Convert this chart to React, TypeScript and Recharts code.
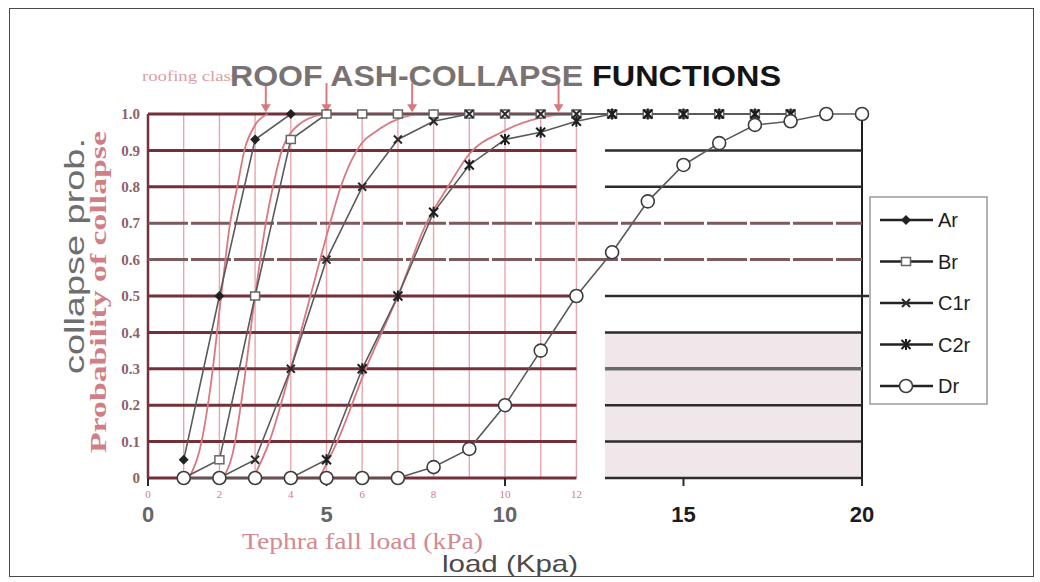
import {
  Line,
  LineChart,
  ReferenceArea,
  ReferenceDot,
  ReferenceLine,
  XAxis,
  YAxis,
} from "recharts";

// black chart: collapse probability per roof type, read at each kPa
const loads = [1, 2, 3, 4, 5, 6, 7, 8, 9, 10, 11, 12, 13, 14, 15, 16, 17, 18, 19, 20];
const arValues = [0.05, 0.5, 0.93, 1, 1, 1, 1, 1, 1, 1, 1, 1, 1, 1, 1, 1, 1, 1, null, null];
const brValues = [0, 0.05, 0.5, 0.93, 1, 1, 1, 1, 1, 1, 1, 1, 1, 1, 1, 1, 1, 1, null, null];
const c1rValues = [0, 0, 0.05, 0.3, 0.6, 0.8, 0.93, 0.98, 1, 1, 1, 1, 1, 1, 1, 1, 1, 1, null, null];
const c2rValues = [0, 0, 0, 0, 0.05, 0.3, 0.5, 0.73, 0.86, 0.93, 0.95, 0.98, 1, 1, 1, 1, 1, 1, null, null];
const drValues = [0, 0, 0, 0, 0, 0, 0, 0.03, 0.08, 0.2, 0.35, 0.5, 0.62, 0.76, 0.86, 0.92, 0.97, 0.98, 1, 1];

// red overlay: tephra fall curves per roofing class
const class1Loads = [1.15, 1.5, 1.75, 2.05, 2.3, 2.5, 2.7, 3.0, 3.35];
const class1Probs = [0, 0.1, 0.25, 0.5, 0.7, 0.8, 0.9, 0.97, 1];
const class2Loads = [2.1, 2.4, 2.6, 3.0, 3.3, 3.5, 3.75, 4.1, 4.9];
const class2Probs = [0, 0.08, 0.2, 0.5, 0.7, 0.8, 0.9, 0.96, 1];
const class3Loads = [2.95, 3.4, 4.0, 4.55, 5.1, 5.4, 5.85, 6.5, 7.5];
const class3Probs = [0, 0.1, 0.3, 0.5, 0.7, 0.8, 0.9, 0.96, 1];
const class4Loads = [4.8, 5.3, 6.1, 7.0, 7.8, 8.4, 9.0, 9.9, 11.0, 11.6];
const class4Probs = [0, 0.1, 0.3, 0.5, 0.7, 0.8, 0.89, 0.95, 0.99, 1];
const classArrowLoads = [3.3, 5.0, 7.4, 11.5];

const loadTicks = [0, 5, 10, 15, 20];
const tephraTicks = [0, 2, 4, 6, 8, 10, 12];
const probTicks = [0, 0.1, 0.2, 0.3, 0.4, 0.5, 0.6, 0.7, 0.8, 0.9, 1];
const redGridLoads = [0, 1, 2, 3, 4, 5, 6, 7, 8, 9, 10, 11, 12];

const data = loads.map((load, i) => ({
  load,
  Ar: arValues[i],
  Br: brValues[i],
  C1r: c1rValues[i],
  C2r: c2rValues[i],
  Dr: drValues[i],
}));

const toCurve = (xs: number[], ys: number[]) => xs.map((load, i) => ({ load, p: ys[i] }));
const redCurves = [
  toCurve(class1Loads, class1Probs),
  toCurve(class2Loads, class2Probs),
  toCurve(class3Loads, class3Probs),
  toCurve(class4Loads, class4Probs),
];

const SANS = "'Liberation Sans', Arial, sans-serif";
const SERIF = "'Liberation Serif', 'Times New Roman', serif";
const RED = "#d9787f";
const GRID_RED = "#74303a";
const GRID_PINK = "#eaa6ab";
const LINE_GREY = "#5a5a5a";

type Shape = "diamond" | "square" | "cross" | "star" | "circle";

const marker = (shape: Shape, cx: number, cy: number, key?: string | number) => {
  if (cx == null || cy == null || Number.isNaN(cy)) return <g key={key} />;
  switch (shape) {
    case "diamond":
      return (
        <path
          key={key}
          d={`M${cx},${cy - 5}L${cx + 5},${cy}L${cx},${cy + 5}L${cx - 5},${cy}Z`}
          fill="#222"
        />
      );
    case "square":
      return (
        <rect key={key} x={cx - 4.5} y={cy - 4} width={9} height={8} fill="#fff" stroke="#666" strokeWidth={1.5} />
      );
    case "cross":
      return (
        <path
          key={key}
          d={`M${cx - 4},${cy - 4}L${cx + 4},${cy + 4}M${cx + 4},${cy - 4}L${cx - 4},${cy + 4}`}
          stroke="#2a2a2a"
          strokeWidth={2}
        />
      );
    case "star":
      return (
        <path
          key={key}
          d={`M${cx - 4.5},${cy - 4.5}L${cx + 4.5},${cy + 4.5}M${cx + 4.5},${cy - 4.5}L${cx - 4.5},${cy + 4.5}M${cx},${cy - 5.5}L${cx},${cy + 5.5}`}
          stroke="#1e1e1e"
          strokeWidth={2}
        />
      );
    default:
      return <circle key={key} cx={cx} cy={cy} r={6.5} fill="#fff" stroke="#3c3c3c" strokeWidth={1.6} />;
  }
};

const dotFor = (shape: Shape) => (props: any) =>
  marker(shape, props.cx, props.cy, `${shape}-${props.index}`);

const series: { key: string; label: string; shape: Shape }[] = [
  { key: "Ar", label: "Ar", shape: "diamond" },
  { key: "Br", label: "Br", shape: "square" },
  { key: "C1r", label: "C1r", shape: "cross" },
  { key: "C2r", label: "C2r", shape: "star" },
  { key: "Dr", label: "Dr", shape: "circle" },
];

const LoadTick = ({ x, y, payload }: any) => (
  <text
    x={x}
    y={y + 34}
    textAnchor="middle"
    fontFamily={SANS}
    fontWeight={700}
    fontSize={22}
    fill={payload.value >= 15 ? "#1c1c1c" : "#666"}
  >
    {payload.value}
  </text>
);

// the tephra axis sits below the load axis, so its labels are lifted back up
const TephraTick = ({ x, y, payload }: any) => (
  <text x={x} y={y - 11} textAnchor="middle" fontFamily={SERIF} fontSize={11} fill={RED}>
    {payload.value}
  </text>
);

const ProbTick = ({ x, y, payload }: any) => (
  <text
    x={x}
    y={y}
    dy="0.35em"
    textAnchor="end"
    fontFamily={SERIF}
    fontWeight={700}
    fontSize={15}
    fill="#8c6266"
  >
    {payload.value === 0 ? "0" : payload.value.toFixed(1)}
  </text>
);

const ArrowHead = (props: any) => {
  const { cx, cy } = props;
  return <path d={`M${cx - 5},${cy - 8}L${cx + 5},${cy - 8}L${cx},${cy}Z`} fill={RED} />;
};

const Legend = () => (
  <svg
    width={120}
    height={210}
    style={{ position: "absolute", left: 869, top: 196 }}
  >
    <rect x={1} y={1} width={117} height={207} fill="#fff" stroke="#9a9a9a" strokeWidth={1.5} />
    {series.map((s, i) => {
      const cy = 24 + i * 41.5;
      return (
        <g key={s.key}>
          <line x1={11} x2={64} y1={cy} y2={cy} stroke="#222" strokeWidth={2.5} />
          {marker(s.shape, 37, cy)}
          <text x={69} y={cy + 7} fontFamily={SANS} fontSize={20} fill="#1e1e1e">
            {s.label}
          </text>
        </g>
      );
    })}
  </svg>
);

const Labels = () => (
  <svg width={1040} height={582} style={{ position: "absolute", left: 0, top: 0, pointerEvents: "none" }}>
    <text x={142} y={81} fontFamily={SERIF} fontSize={14} fill="#d9a0a4" textLength={96} lengthAdjust="spacingAndGlyphs">
      roofing class
    </text>
    <text
      x={230}
      y={86}
      fontFamily={SANS}
      fontWeight={700}
      fontSize={30}
      fill="#7a7272"
      textLength={353}
      lengthAdjust="spacingAndGlyphs"
    >
      ROOF ASH-COLLAPSE
    </text>
    <text
      x={592}
      y={86}
      fontFamily={SANS}
      fontWeight={700}
      fontSize={30}
      fill="#141414"
      textLength={189}
      lengthAdjust="spacingAndGlyphs"
    >
      FUNCTIONS
    </text>
    <text
      transform="translate(84 256) rotate(-90)"
      textAnchor="middle"
      fontFamily={SANS}
      fontSize={28}
      fill="#6e6e6e"
      textLength={236}
      lengthAdjust="spacingAndGlyphs"
    >
      collapse prob.
    </text>
    <text
      transform="translate(106 292) rotate(-90)"
      textAnchor="middle"
      fontFamily={SERIF}
      fontWeight={700}
      fontSize={23}
      fill="#cf7f86"
      textLength={322}
      lengthAdjust="spacingAndGlyphs"
    >
      Probability of collapse
    </text>
    <text x={242} y={549} fontFamily={SERIF} fontSize={23} fill="#d48a90" textLength={241} lengthAdjust="spacingAndGlyphs">
      Tephra fall load (kPa)
    </text>
    <text x={442} y={572} fontFamily={SANS} fontSize={24} fill="#4a4a4a" textLength={136} lengthAdjust="spacingAndGlyphs">
      load (Kpa)
    </text>
  </svg>
);

const RoofCollapseChart = () => (
  <div
    style={{
      position: "fixed",
      left: 0,
      top: 0,
      width: 1040,
      height: 582,
      background: "#fff",
      overflow: "hidden",
    }}
  >
    <div
      style={{
        position: "absolute",
        left: 9,
        top: 8,
        width: 1025,
        height: 569,
        border: "1.5px solid #4a4a4a",
        boxSizing: "border-box",
      }}
    />
    <LineChart
      width={1040}
      height={582}
      data={data}
      margin={{ top: 114, right: 178, bottom: 74, left: 108 }}
      style={{ position: "absolute", left: 0, top: 0 }}
    >
      <XAxis
        xAxisId="tephra"
        dataKey="load"
        type="number"
        domain={[0, 20]}
        ticks={tephraTicks}
        height={1}
        axisLine={false}
        tickLine={false}
        tickSize={0}
        tick={<TephraTick />}
        interval={0}
      />
      <XAxis
        dataKey="load"
        type="number"
        domain={[0, 20]}
        ticks={loadTicks}
        height={29}
        axisLine={false}
        tickLine={{ stroke: "#2a2a2a", strokeWidth: 2 }}
        tickSize={8}
        tick={<LoadTick />}
      />
      <YAxis
        type="number"
        domain={[0, 1]}
        ticks={probTicks}
        width={40}
        axisLine={false}
        tickLine={false}
        tick={<ProbTick />}
      />

      <ReferenceArea x1={12.8} x2={20} y1={0} y2={0.4} fill="#efe7e9" fillOpacity={1} stroke="none" />

      {redGridLoads.map((x) => (
        <ReferenceLine
          key={`v-${x}`}
          segment={[
            { x, y: 0 },
            { x, y: 1 },
          ]}
          stroke={x === 0 ? GRID_RED : GRID_PINK}
          strokeWidth={x === 0 ? 2.5 : 1.4}
        />
      ))}
      <ReferenceLine
        segment={[
          { x: 20, y: 0 },
          { x: 20, y: 1 },
        ]}
        stroke="#1e1e1e"
        strokeWidth={2}
      />

      {probTicks.map((y) =>
        y === 0.6 || y === 0.7 ? (
          <ReferenceLine
            key={`h-${y}`}
            segment={[
              { x: 0, y },
              { x: 20, y },
            ]}
            stroke="#7c5a5d"
            strokeWidth={3}
            strokeDasharray="40 3"
          />
        ) : (
          <ReferenceLine
            key={`h-${y}`}
            segment={[
              { x: 0, y },
              { x: 12, y },
            ]}
            stroke={GRID_RED}
            strokeWidth={3}
          />
        )
      )}
      {probTicks
        .filter((y) => y < 1 && y !== 0.6 && y !== 0.7)
        .map((y) => (
          <ReferenceLine
            key={`hr-${y}`}
            segment={[
              { x: 12.8, y },
              { x: y === 0.5 ? 20.2 : 20, y },
            ]}
            ifOverflow="visible"
            stroke={y === 0.3 ? "#6a6a6a" : "#2c2c2c"}
            strokeWidth={y === 0.3 ? 3.5 : 2.5}
          />
        ))}

      {classArrowLoads.map((x) => (
        <ReferenceLine
          key={`arrow-${x}`}
          segment={[
            { x, y: 1.01 },
            { x, y: 1.085 },
          ]}
          ifOverflow="visible"
          stroke={RED}
          strokeWidth={2}
        />
      ))}
      {classArrowLoads.map((x) => (
        <ReferenceDot key={`head-${x}`} x={x} y={1.005} ifOverflow="visible" shape={<ArrowHead />} />
      ))}

      {redCurves.map((curve, i) => (
        <Line
          key={`class-${i}`}
          xAxisId="tephra"
          data={curve}
          dataKey="p"
          type="monotone"
          stroke={RED}
          strokeWidth={1.8}
          dot={false}
          activeDot={false}
          isAnimationActive={false}
        />
      ))}

      {series.map((s) => (
        <Line
          key={s.key}
          dataKey={s.key}
          type="linear"
          stroke={LINE_GREY}
          strokeWidth={1.6}
          dot={dotFor(s.shape)}
          activeDot={false}
          isAnimationActive={false}
        />
      ))}
    </LineChart>
    <Labels />
    <Legend />
  </div>
);

export default function App() {
  return <RoofCollapseChart />;
}
